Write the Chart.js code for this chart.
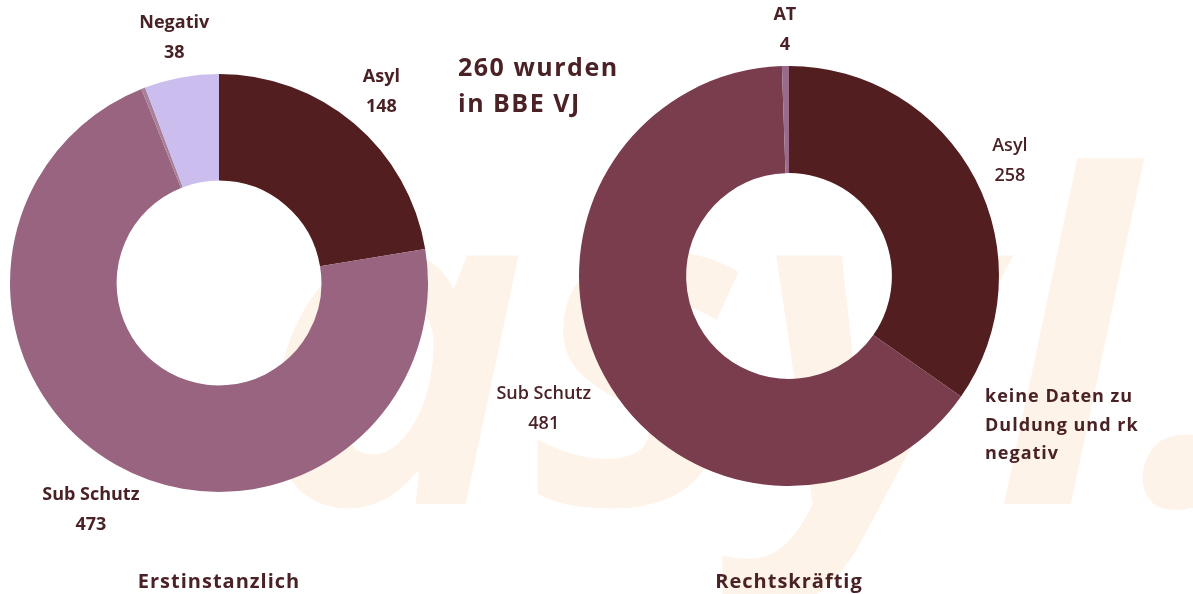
<!DOCTYPE html>
<html>
<head>
<meta charset="utf-8">
<script src="https://cdn.jsdelivr.net/npm/chart.js@4"></script>
<style>
  html, body { margin: 0; padding: 0; background: #fff; }
  #page { position: relative; width: 1193px; height: 594px; overflow: hidden; }
  #watermark {
    position: absolute; left: 256px; top: 100px;
    font-family: 'Open Sans', sans-serif; font-style: italic; font-weight: 700;
    font-size: 455px; line-height: 455px; letter-spacing: 6px;
    color: #fdf3e8; white-space: nowrap;
  }
  canvas { position: absolute; top: 0; }
  .note {
    position: absolute; font-family: 'Open Sans', sans-serif; font-weight: 700;
    color: #4a2226; white-space: nowrap;
  }
</style>
</head>
<body>
<div id="page">
  <div id="watermark">asyl.</div>
  <canvas id="left" width="560" height="594" style="left:0"></canvas>
  <canvas id="right" width="753" height="594" style="left:440px"></canvas>
  <div class="note" style="left:458px; top:48px; font-size:25px; line-height:36px; letter-spacing:1.5px;">260 wurden<br>in BBE VJ</div>
  <div class="note" style="left:985px; top:381px; font-size:18px; line-height:28.5px; letter-spacing:1px;">keine Daten zu<br>Duldung und rk<br>negativ</div>
</div>
<script>
// Erstinstanzlich
const leftLabels = ['Asyl', 'Sub Schutz', 'AT', 'Negativ'];
const leftValues = [148, 473, 2, 38];
const leftColors = ['#521e1f', '#98647f', '#a98099', '#cbbdee'];

// Rechtskräftig
const rightLabels = ['Asyl', 'Sub Schutz', 'AT'];
const rightValues = [258, 481, 4];
const rightColors = ['#521e1f', '#7a3d4d', '#9a6a8a'];

const textColor = '#4a2226';

// draws "name / value" next to each slice and the caption under the ring
const sliceLabels = {
  id: 'sliceLabels',
  afterDraw(chart, args, opts) {
    const ctx = chart.ctx;
    const meta = chart.getDatasetMeta(0);
    const labels = chart.data.labels;
    const values = chart.data.datasets[0].data;
    ctx.save();
    ctx.fillStyle = textColor;
    ctx.textAlign = 'center';
    ctx.textBaseline = 'middle';
    meta.data.forEach((arc, i) => {
      const dist = opts.offsets[i];
      if (dist == null) return;
      const mid = (arc.startAngle + arc.endAngle) / 2;
      const r = arc.outerRadius + dist;
      const x = arc.x + Math.cos(mid) * r;
      const y = arc.y + Math.sin(mid) * r;
      ctx.font = (opts.bold[i] ? '700 ' : '600 ') + '18px "Open Sans", sans-serif';
      ctx.fillText(labels[i], x, y - 15);
      ctx.fillText(String(values[i]), x, y + 15);
    });
    const c = meta.data[0];
    ctx.font = '700 20px "Open Sans", sans-serif';
    ctx.letterSpacing = '1px';
    ctx.fillText(opts.caption, c.x, 582);
    ctx.restore();
  }
};

function makeDonut(id, labels, values, colors, padding, labelOpts) {
  return new Chart(document.getElementById(id).getContext('2d'), {
    type: 'doughnut',
    data: {
      labels: labels,
      datasets: [{
        data: values,
        backgroundColor: colors,
        borderWidth: 0,
      }],
    },
    options: {
      responsive: false,
      animation: false,
      cutout: '49%',
      layout: { padding: padding },
      plugins: {
        legend: { display: false },
        tooltip: { enabled: false },
        sliceLabels: labelOpts,
      },
    },
    plugins: [sliceLabels],
  });
}

makeDonut('left', leftLabels, leftValues, leftColors,
  { left: 10, right: 132, top: 74, bottom: 102 },
  { caption: 'Erstinstanzlich', offsets: [42, 52, null, 40], bold: [true, true, false, true] });

makeDonut('right', rightLabels, rightValues, rightColors,
  { left: 139, right: 194, top: 66, bottom: 108 },
  { caption: 'Rechtskräftig', offsets: [39, 69, 36], bold: [false, false, true] });
</script>
</body>
</html>
